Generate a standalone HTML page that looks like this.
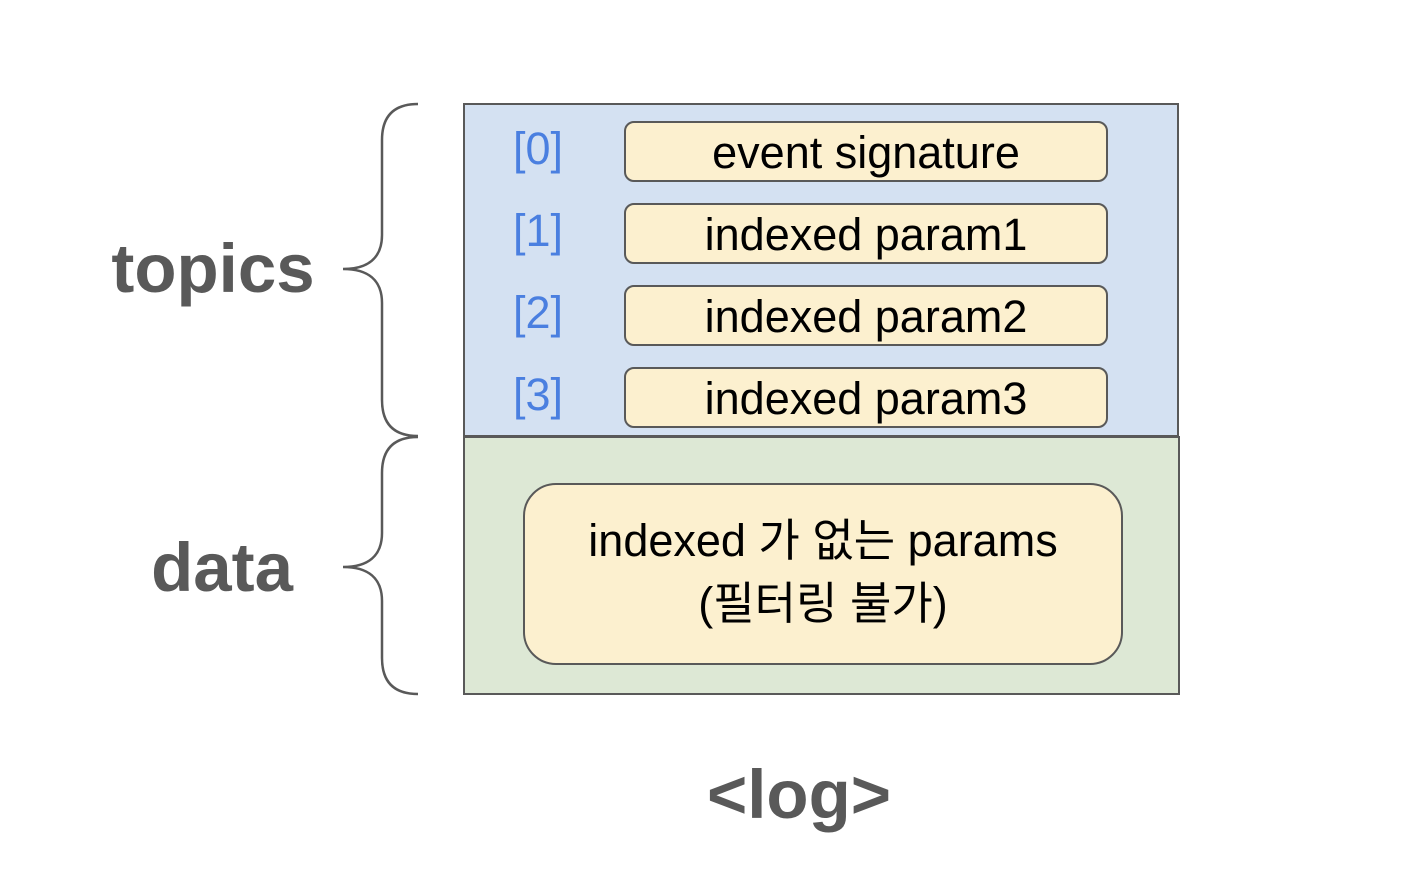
<!DOCTYPE html>
<html><head><meta charset="utf-8"><style>
body{margin:0;background:#fff;}
text{font-family:"Liberation Sans","Noto Sans CJK KR",sans-serif;}
</style></head><body>
<svg width="1406" height="866" xmlns="http://www.w3.org/2000/svg">
<rect x="464" y="104" width="714" height="332" fill="#d4e1f2" stroke="#595959" stroke-width="2"/>
<rect x="464" y="437" width="715" height="257" fill="#dde8d5" stroke="#595959" stroke-width="2"/>
<g fill="#fcf0cf" stroke="#595959" stroke-width="2">
<rect x="625" y="122" width="482" height="59" rx="9"/>
<rect x="625" y="204" width="482" height="59" rx="9"/>
<rect x="625" y="286" width="482" height="59" rx="9"/>
<rect x="625" y="368" width="482" height="59" rx="9"/>
<rect x="524" y="484" width="598" height="180" rx="32"/>
</g>
<g fill="none" stroke="#595959" stroke-width="2.5">
<path d="M418,104 C395,104 382,115 382,140 L382,235 C382,258 368,269 343,269 C368,269 382,280 382,303 L382,400 C382,425 395,436 418,436"/>
<path d="M418,437 C395,437 382,448 382,473 L382,533 C382,556 368,567 343,567 C368,567 382,578 382,601 L382,658 C382,683 395,694 418,694"/>
</g>
<g fill="#4a7fe0" font-size="45" text-anchor="middle">
<text x="538" y="164">[0]</text>
<text x="538" y="246">[1]</text>
<text x="538" y="328">[2]</text>
<text x="538" y="410">[3]</text>
</g>
<g fill="#000" font-size="45" text-anchor="middle">
<text x="866" y="168">event signature</text>
<text x="866" y="250">indexed param1</text>
<text x="866" y="332">indexed param2</text>
<text x="866" y="414">indexed param3</text>
</g>
<g fill="#000" font-size="45" text-anchor="middle">
<text x="823" y="556">indexed 가 없는 params</text>
<text x="823" y="619">(필터링 불가)</text>
</g>
<g fill="#595959" font-size="69" font-weight="bold" text-anchor="middle">
<text x="213" y="292">topics</text>
<text x="222" y="591">data</text>
<text x="799" y="818">&lt;log&gt;</text>
</g>
</svg>
</body></html>
